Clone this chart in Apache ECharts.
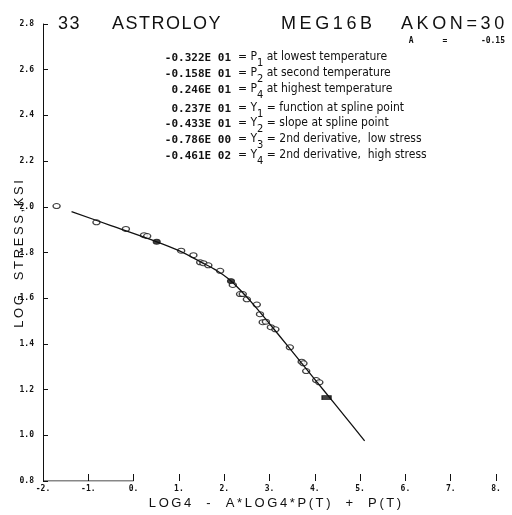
<!DOCTYPE html>
<html>
<head>
<meta charset="utf-8">
<script src="https://cdn.jsdelivr.net/npm/echarts@6/dist/echarts.min.js"></script>
<style>html,body{margin:0;padding:0;background:#fff}#c{width:512px;height:515px}</style>
</head>
<body>
<div id="c"></div>
<script>
// ---- data ----
var xTicks = ['-2.', '-1.', '0.', '1.', '2.', '3.', '4.', '5.', '6.', '7.', '8.'];
var yTicks = ['0.8', '1.0', '1.2', '1.4', '1.6', '1.8', '2.0', '2.2', '2.4', '2.6', '2.8'];
var curveX = [-1.37, -0.5, 0.4, 1.0, 1.5, 1.8, 2.1, 2.4, 2.7, 3.2, 3.7, 4.2, 4.7, 5.1];
var curveY = [1.979, 1.918, 1.855, 1.808, 1.757, 1.725, 1.684, 1.626, 1.560, 1.440, 1.318, 1.196, 1.074, 0.976];
var openX = [-1.70, -0.82, -0.17, 0.23, 0.30, 1.05, 1.32, 1.47, 1.54, 1.65, 1.91, 2.19, 2.35, 2.41, 2.50, 2.72, 2.79, 2.85, 2.92, 3.03, 3.13, 3.45, 3.71, 3.75, 3.81, 4.03, 4.10];
var openY = [2.003, 1.932, 1.903, 1.876, 1.872, 1.808, 1.788, 1.757, 1.753, 1.744, 1.720, 1.658, 1.618, 1.618, 1.595, 1.572, 1.530, 1.495, 1.497, 1.473, 1.464, 1.385, 1.322, 1.315, 1.281, 1.242, 1.232];
var filledX = [0.51, 2.15];
var filledY = [1.847, 1.675];
var barX = [4.26];
var barY = [1.165];
var axisSegX = [-2, 0];
var paramValues = ['-0.322E 01', '-0.158E 01', '0.246E 01', '0.237E 01', '-0.433E 01', '-0.786E 00', '-0.461E 02'];
var paramSym = ['P', 'P', 'P', 'Y', 'Y', 'Y', 'Y'];
var paramSub = ['1', '2', '4', '1', '2', '3', '4'];
var paramDesc = [' at lowest temperature', ' at second temperature', ' at highest temperature',
  ' = function at spline point', ' = slope at spline point', ' = 2nd derivative,  low stress', ' = 2nd derivative,  high stress'];
var titleParts = ['33', 'ASTROLOY', 'MEG16B', 'AKON=30'];
var subTitle = 'A      =       -0.15';
var xTitle = 'LOG4  -  A*LOG4*P(T)  +  P(T)';
var yTitle = 'LOG  STRESS,KSI';

function zip(a, b) { return a.map(function (v, i) { return [v, b[i]]; }); }
function spread(s, gap) { return s.split('').join(gap); }

var chart = echarts.init(document.getElementById('c'), null, { renderer: 'canvas' });
var ink = '#111';
var monoFont = "'DejaVu Sans Mono', 'Liberation Mono', monospace";
var titleFont = "'Liberation Sans', 'DejaVu Sans', sans-serif";
var descFont = "'DejaVu Sans Condensed', 'Liberation Sans Narrow', 'Liberation Sans', sans-serif";

var graphics = [];
var titleX = [58, 112, 281, 401];
var titleGap = ['\u200a', '\u200a', '\u2009', '\u2009'];
titleParts.forEach(function (t, i) {
  graphics.push({ type: 'text', x: titleX[i], y: 24, style: { text: spread(t, titleGap[i]), fill: ink, font: 'normal 18px ' + titleFont, textVerticalAlign: 'middle' } });
});
graphics.push({ type: 'text', x: 505, y: 41, style: { text: subTitle, fill: ink, font: 'bold 8px ' + monoFont, textAlign: 'right', textVerticalAlign: 'middle' } });
var rowY = [58, 74, 90, 109, 124, 140, 156];
paramValues.forEach(function (v, i) {
  graphics.push({ type: 'text', x: 231, y: rowY[i], style: { text: v, fill: ink, font: 'bold 11px ' + monoFont, textAlign: 'right', textVerticalAlign: 'middle' } });
  graphics.push({ type: 'text', x: 238, y: rowY[i] - 7, style: {
    text: '{n|= ' + paramSym[i] + '}{s|' + paramSub[i] + '}{n|' + paramDesc[i] + '}',
    fill: ink,
    rich: {
      n: { fontSize: 12, lineHeight: 14, verticalAlign: 'top', fontFamily: descFont, fill: ink },
      s: { fontSize: 11, lineHeight: 18, verticalAlign: 'bottom', fontFamily: descFont, fill: ink }
    }
  } });
});
graphics.push({ type: 'text', x: 275, y: 503, style: { text: spread(xTitle, '\u2009'), fill: ink, font: 'normal 13px ' + titleFont, textAlign: 'center', textVerticalAlign: 'middle' } });
graphics.push({ type: 'text', x: 19, y: 254, rotation: Math.PI / 2, style: { text: spread(yTitle, '\u2009'), fill: ink, font: 'normal 13px ' + titleFont, textAlign: 'center', textVerticalAlign: 'middle' } });

chart.setOption({
  backgroundColor: '#fff',
  animation: false,
  grid: { left: 43, right: 16, top: 24, bottom: 34 },
  xAxis: {
    type: 'value', min: -2, max: 8, interval: 1,
    axisLine: { show: false, onZero: false },
    axisTick: { show: true, inside: true, length: 7, lineStyle: { color: ink, width: 1 } },
    splitLine: { show: false },
    axisLabel: { margin: 4, fontSize: 8, fontWeight: 'bold', fontFamily: monoFont, color: ink,
      formatter: function (v) { return xTicks[Math.round(v + 2)]; } }
  },
  yAxis: {
    type: 'value', min: 0.8, max: 2.8, interval: 0.2,
    axisLine: { show: true, onZero: false, lineStyle: { color: ink, width: 1 } },
    axisTick: { show: true, inside: true, length: 5, lineStyle: { color: ink } },
    splitLine: { show: false },
    axisLabel: { margin: 9, fontSize: 8, fontWeight: 'bold', fontFamily: monoFont, color: ink,
      formatter: function (v) { return yTicks[Math.round((v - 0.8) / 0.2)]; } }
  },
  graphic: graphics,
  series: [
    { type: 'line', data: axisSegX.map(function (x) { return [x, 0.8]; }), symbol: 'none', silent: true,
      lineStyle: { color: ink, width: 1.2 } },
    { type: 'line', data: zip(curveX, curveY), smooth: 0.4, symbol: 'none',
      lineStyle: { color: ink, width: 1.3 } },
    { type: 'scatter', data: zip(openX, openY), symbol: 'circle', symbolSize: [7, 5],
      itemStyle: { color: '#fff', borderColor: ink, borderWidth: 1.2 } },
    { type: 'scatter', data: zip(filledX, filledY), symbol: 'circle', symbolSize: [7, 5],
      itemStyle: { color: ink, borderColor: ink, borderWidth: 1 } },
    { type: 'scatter', data: zip(barX, barY), symbol: 'rect', symbolSize: [9, 4],
      itemStyle: { color: ink, borderColor: ink, borderWidth: 1 } }
  ]
});
</script>
</body>
</html>
